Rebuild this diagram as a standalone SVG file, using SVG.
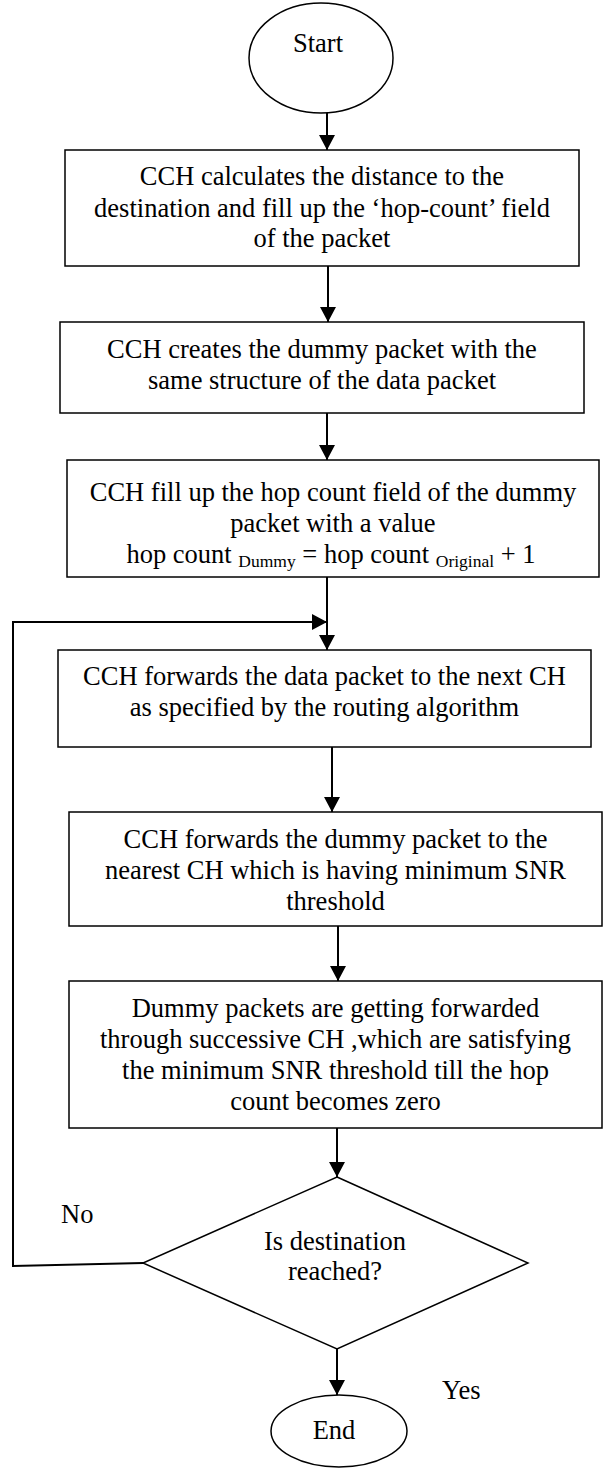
<svg xmlns="http://www.w3.org/2000/svg" width="606" height="1468" viewBox="0 0 606 1468">
<defs>
<marker id="ah" viewBox="0 0 15 16" refX="15" refY="8" markerWidth="15" markerHeight="16" markerUnits="userSpaceOnUse" orient="auto">
<path d="M0,0 L15,8 L0,16 z" fill="#000"/>
</marker>
<style>
.shape{fill:#fff;stroke:#000;stroke-width:1.5}
.t{font-family:"Liberation Serif","Times New Roman",serif;font-size:26.5px;fill:#000;text-anchor:middle}
.lbl{font-family:"Liberation Serif","Times New Roman",serif;font-size:26.5px;fill:#000}
.sub{font-size:17.5px}
.conn{fill:none;stroke:#000;stroke-width:2}
</style>
</defs>
<rect width="606" height="1468" fill="#fff"/>
<g id="connectors">
<line class="conn" x1="327" y1="113" x2="327" y2="150" marker-end="url(#ah)"/>
<line class="conn" x1="328" y1="266" x2="328" y2="322" marker-end="url(#ah)"/>
<line class="conn" x1="327" y1="413" x2="327" y2="460" marker-end="url(#ah)"/>
<line class="conn" x1="327" y1="577" x2="327" y2="650" marker-end="url(#ah)"/>
<polyline class="conn" points="143,1263 13,1266 13,622 327,622" marker-end="url(#ah)"/>
<line class="conn" x1="332" y1="747" x2="332" y2="812" marker-end="url(#ah)"/>
<line class="conn" x1="338" y1="926" x2="338" y2="981" marker-end="url(#ah)"/>
<line class="conn" x1="337" y1="1128" x2="337" y2="1177" marker-end="url(#ah)"/>
<line class="conn" x1="337" y1="1349" x2="337" y2="1395" marker-end="url(#ah)"/>
<text class="lbl" x="61" y="1223">No</text>
<text class="lbl" x="442" y="1399">Yes</text>
</g>
<g id="start">
<ellipse class="shape" cx="321" cy="58" rx="72" ry="55"/>
<text class="t" x="318" y="52">Start</text>
</g>
<g id="box1">
<rect class="shape" x="65" y="150" width="514" height="116"/>
<text class="t" x="322" y="185">CCH calculates the distance to the</text>
<text class="t" x="322" y="217">destination and fill up the ‘hop-count’ field</text>
<text class="t" x="322" y="247">of the packet</text>
</g>
<g id="box2">
<rect class="shape" x="60" y="322" width="524" height="91"/>
<text class="t" x="322" y="358">CCH creates the dummy packet with the</text>
<text class="t" x="322" y="389">same structure of the data packet</text>
</g>
<g id="box3">
<rect class="shape" x="67" y="460" width="532" height="117"/>
<text class="t" x="333" y="501">CCH fill up the hop count field of the dummy</text>
<text class="t" x="333" y="532">packet with a value</text>
<text class="t" x="331" y="563">hop count <tspan class="sub" dy="4">Dummy</tspan><tspan dy="-4"> = hop count </tspan><tspan class="sub" dy="4">Original</tspan><tspan dy="-4"> + 1</tspan></text>
</g>
<g id="box4">
<rect class="shape" x="58" y="650" width="533" height="97"/>
<text class="t" x="324.5" y="685">CCH forwards the data packet to the next CH</text>
<text class="t" x="324.5" y="716">as specified by the routing algorithm</text>
</g>
<g id="box5">
<rect class="shape" x="69" y="812" width="533" height="114"/>
<text class="t" x="335.5" y="848">CCH forwards the dummy packet to the</text>
<text class="t" x="335.5" y="879">nearest CH which is having minimum SNR</text>
<text class="t" x="335.5" y="910">threshold</text>
</g>
<g id="box6">
<rect class="shape" x="69" y="981" width="533" height="147"/>
<text class="t" x="335.5" y="1017">Dummy packets are getting forwarded</text>
<text class="t" x="335.5" y="1048">through successive CH ,which are satisfying</text>
<text class="t" x="335.5" y="1079">the minimum SNR threshold till the hop</text>
<text class="t" x="335.5" y="1110">count becomes zero</text>
</g>
<g id="decision">
<polygon class="shape" points="337,1177 528,1263 337,1349 143,1263"/>
<text class="t" x="335" y="1250">Is destination</text>
<text class="t" x="335" y="1280">reached?</text>
</g>
<g id="end">
<ellipse class="shape" cx="339" cy="1431" rx="68" ry="36"/>
<text class="t" x="334" y="1439">End</text>
</g>
</svg>
